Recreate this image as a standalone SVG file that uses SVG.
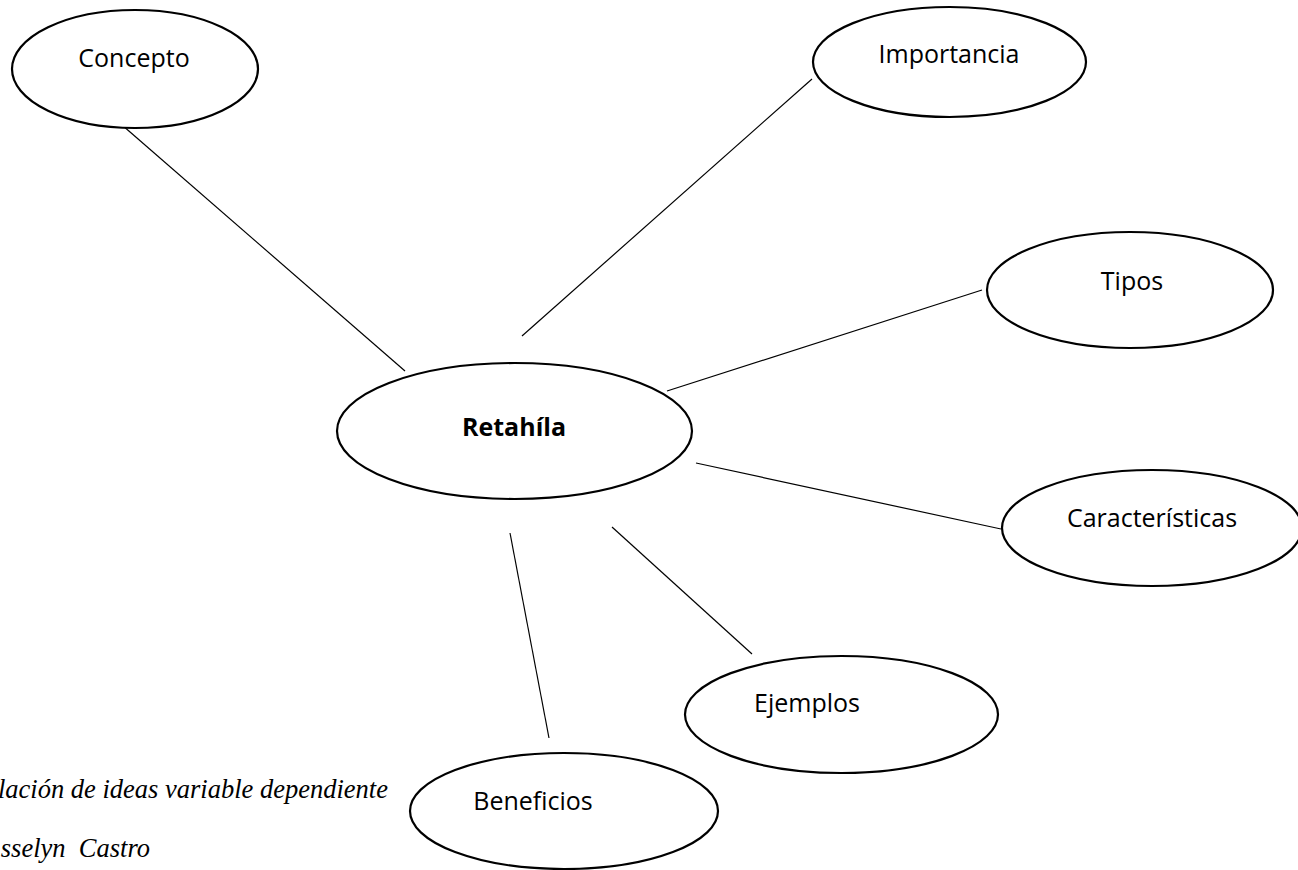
<svg xmlns="http://www.w3.org/2000/svg" width="1298" height="870" viewBox="0 0 1298 870">
<style>
.node ellipse{fill:#fff;stroke:#000;stroke-width:2.2}
.node text{font-family:"Open Sans","Noto Sans",sans-serif;font-size:25px;fill:#000;text-anchor:middle}
.conn line{stroke:#000;stroke-width:1.2}
.note{font-family:"Liberation Serif",serif;font-style:italic;font-size:26.5px;fill:#000;text-anchor:end;white-space:pre}
</style>
<rect width="1298" height="870" fill="#fff"/>
<g id="connectors" class="conn">
<line x1="122" y1="125" x2="405" y2="371"/>
<line x1="812" y1="79" x2="522" y2="336"/>
<line x1="982" y1="290" x2="667" y2="391"/>
<line x1="696" y1="463" x2="1001" y2="529"/>
<line x1="612" y1="527" x2="752" y2="654"/>
<line x1="510" y1="533" x2="549" y2="738"/>
</g>
<g id="concepto" class="node"><ellipse cx="135" cy="69" rx="123" ry="59"/><text x="134" y="67">Concepto</text></g>
<g id="importancia" class="node"><ellipse cx="949.5" cy="62" rx="136.5" ry="55"/><text x="949" y="63">Importancia</text></g>
<g id="tipos" class="node"><ellipse cx="1130" cy="290" rx="143" ry="58"/><text x="1132" y="290">Tipos</text></g>
<g id="caracteristicas" class="node"><ellipse cx="1152" cy="528" rx="150" ry="58"/><text x="1152" y="527">Características</text></g>
<g id="retahila" class="node"><ellipse cx="514.5" cy="431" rx="177.5" ry="68"/><text x="514" y="436" font-weight="bold" font-size="24">Retahíla</text></g>
<g id="ejemplos" class="node"><ellipse cx="841.5" cy="714.5" rx="156.5" ry="58.5"/><text x="807" y="712">Ejemplos</text></g>
<g id="beneficios" class="node"><ellipse cx="564" cy="811" rx="154" ry="58"/><text x="533" y="810">Beneficios</text></g>
<text class="note" x="388" y="798">lación de ideas variable dependiente</text>
<text class="note" x="150" y="857" xml:space="preserve">sselyn  Castro</text>
</svg>
